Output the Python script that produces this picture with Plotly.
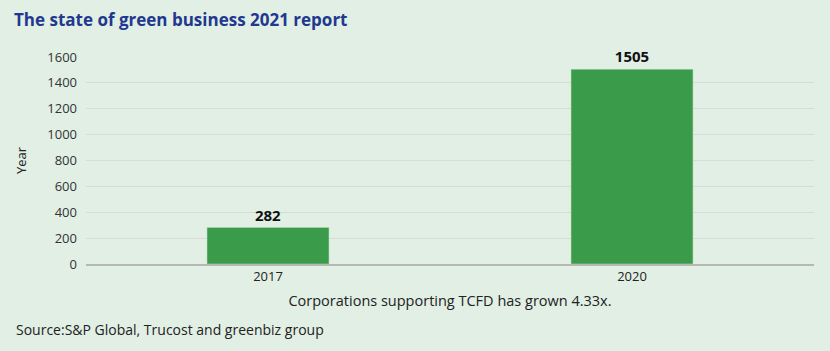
import plotly.graph_objects as go

categories = ["2017", "2020"]
values = [282, 1505]
title_text = "The state of green business 2021 report"
x_title = "Corporations supporting TCFD has grown 4.33x."
y_title = "Year"
source_text = "Source:S&P Global, Trucost and greenbiz group"

FONT = "Open Sans"
BG = "#e1efe5"

fig = go.Figure(go.Bar(
    x=categories, y=values,
    marker=dict(color="#3a9c4b", line=dict(color="#b9dcc0", width=0.5)),
    text=[str(v) for v in values], textposition="outside",
    textfont=dict(family=FONT, size=15, color="#111111", weight="bold"),
    cliponaxis=False,
))

fig.update_layout(
    width=830, height=351,
    paper_bgcolor=BG, plot_bgcolor=BG,
    margin=dict(l=86, r=16, t=57, b=87),
    bargap=0.665,
    showlegend=False,
    font=dict(family=FONT, size=13, color="#222222"),
    title=dict(text="<b>" + title_text + "</b>", x=14/830, xanchor="left",
               y=1 - 20/351, yanchor="middle",
               font=dict(family=FONT, size=17, color="#22388f")),
    xaxis=dict(title=dict(text=x_title, font=dict(size=14.5, color="#222222"), standoff=12),
               tickfont=dict(size=13, color="#222222"), showgrid=False,
               showline=True, linecolor="#b5b9b6", linewidth=1.5, ticks=""),
    yaxis=dict(title=dict(text=y_title, font=dict(size=13, color="#222222"), standoff=17),
               range=[0, 1600], dtick=200, tickfont=dict(size=13, color="#333333"),
               gridcolor="#d6dcd8", gridwidth=1, zeroline=False, ticks="",
               ticklabelstandoff=8),
    annotations=[dict(text=source_text, xref="paper", x=(14 - 86) / 728, xanchor="left",
                      yref="paper", y=(264 - 329) / 207, yanchor="middle", showarrow=False,
                      font=dict(family=FONT, size=14, color="#222222"))],
)

fig.write_html("out.html")
